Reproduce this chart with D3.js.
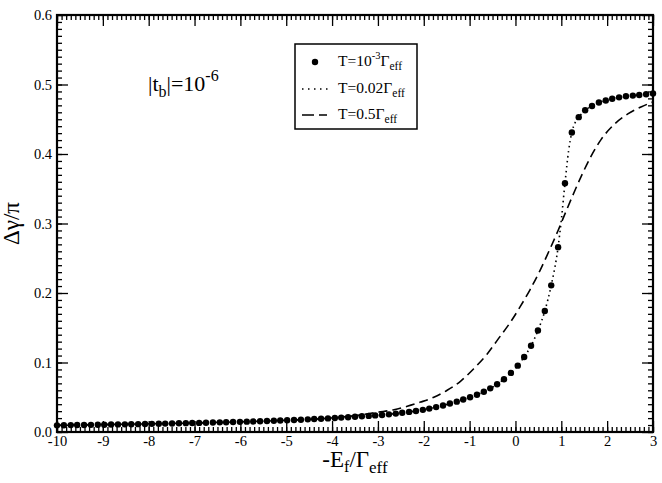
<!DOCTYPE html>
<html>
<head>
<meta charset="utf-8">
<script src="https://cdn.jsdelivr.net/npm/d3@7"></script>
<style>
  body { margin: 0; background: #fff; }
  svg { font-family: "Liberation Serif", "DejaVu Serif", serif; }
  .axis path, .axis line { stroke: #000; }
  .axis text { font-size: 14.5px; fill: #000; font-family: "Liberation Serif", serif; }
</style>
</head>
<body>
<div id="chart"></div>
<script>
// T = 10^-3 Γeff (symbols)
var dotX = [-10.00, -9.85, -9.70, -9.56, -9.41, -9.26, -9.11, -8.97, -8.82, -8.67,
  -8.52, -8.38, -8.23, -8.08, -7.93, -7.78, -7.64, -7.49, -7.34, -7.19,
  -7.05, -6.90, -6.75, -6.60, -6.45, -6.31, -6.16, -6.01, -5.86, -5.72,
  -5.57, -5.42, -5.27, -5.13, -4.98, -4.83, -4.68, -4.53, -4.39, -4.24,
  -4.09, -3.94, -3.80, -3.65, -3.50, -3.35, -3.20, -3.06, -2.91, -2.76,
  -2.61, -2.47, -2.32, -2.17, -2.02, -1.88, -1.73, -1.58, -1.43, -1.28,
  -1.14, -0.99, -0.84, -0.69, -0.55, -0.40, -0.25, -0.10, 0.05, 0.19,
  0.34, 0.49, 0.64, 0.78, 0.93, 1.08, 1.23, 1.38, 1.52, 1.67,
  1.82, 1.97, 2.11, 2.26, 2.41, 2.56, 2.70, 2.85, 3.00]
var dotY = [0.0096, 0.0097, 0.0099, 0.0100, 0.0101, 0.0103, 0.0104, 0.0105, 0.0107, 0.0109,
  0.0110, 0.0112, 0.0113, 0.0115, 0.0117, 0.0119, 0.0121, 0.0123, 0.0125, 0.0127,
  0.0129, 0.0131, 0.0134, 0.0136, 0.0139, 0.0141, 0.0144, 0.0146, 0.0149, 0.0152,
  0.0155, 0.0159, 0.0162, 0.0166, 0.0169, 0.0173, 0.0177, 0.0182, 0.0186, 0.0191,
  0.0196, 0.0201, 0.0207, 0.0213, 0.0219, 0.0226, 0.0232, 0.0239, 0.0245, 0.0254,
  0.0265, 0.0276, 0.0289, 0.0303, 0.0319, 0.0337, 0.0358, 0.0382, 0.0409, 0.0437,
  0.0467, 0.0500, 0.0537, 0.0580, 0.0628, 0.0687, 0.0760, 0.0850, 0.0955, 0.108,
  0.124, 0.146, 0.174, 0.211, 0.266, 0.358, 0.431, 0.453, 0.463, 0.469,
  0.474, 0.477, 0.4795, 0.4815, 0.483, 0.484, 0.485, 0.486, 0.487]

// T = 0.02 Γeff (dotted) - follows the symbols
var dottedX = [-10.00, -9.00, -8.00, -7.00, -6.00, -5.00, -4.00, -3.50, -3.00, -2.50,
  -2.00, -1.50, -1.00, -0.70, -0.40, -0.10, 0.05, 0.19, 0.34, 0.49,
  0.64, 0.78, 0.93, 1.00, 1.08, 1.16, 1.23, 1.30, 1.38, 1.52,
  1.67, 1.82, 1.97, 2.26, 2.56, 2.85, 3.00]
var dottedY = [0.0096, 0.0105, 0.0115, 0.0129, 0.0146, 0.0169, 0.0198, 0.0219, 0.0243, 0.0273,
  0.0322, 0.0396, 0.0498, 0.0576, 0.0687, 0.0850, 0.0955, 0.108, 0.124, 0.146,
  0.174, 0.211, 0.266, 0.305, 0.358, 0.405, 0.431, 0.445, 0.453, 0.463,
  0.469, 0.474, 0.477, 0.4815, 0.484, 0.486, 0.487]

// T = 0.5 Γeff (dashed)
var dashX = [-10, -9, -8, -7, -6, -5, -4, -3.5, -3, -2.65,
  -2.36, -2.07, -1.78, -1.49, -1.2, -0.91, -0.62, -0.375, -0.12, 0.1,
  0.32, 0.54, 0.75, 0.93, 1.1, 1.28, 1.47, 1.65, 1.87, 2.16,
  2.46, 2.75, 3.0]
var dashY = [0.0100, 0.0108, 0.0118, 0.0131, 0.0147, 0.0168, 0.0203, 0.0236, 0.0285, 0.032,
  0.037, 0.043, 0.050, 0.060, 0.073, 0.091, 0.112, 0.134, 0.157, 0.180,
  0.205, 0.233, 0.263, 0.290, 0.317, 0.345, 0.373, 0.397, 0.421, 0.443,
  0.458, 0.468, 0.475]

var xTicks = [-10, -9, -8, -7, -6, -5, -4, -3, -2, -1, 0, 1, 2, 3]
var yTicks = [0.0, 0.1, 0.2, 0.3, 0.4, 0.5, 0.6]

var width = 662, height = 483
var margin = {top: 15, right: 9, bottom: 51, left: 57}
var plotW = width - margin.left - margin.right
var plotH = height - margin.top - margin.bottom

var x = d3.scaleLinear().domain([-10, 3]).range([0, plotW])
var y = d3.scaleLinear().domain([0, 0.6]).range([plotH, 0])

var svg = d3.select("#chart")
  .append("svg")
    .attr("width", width)
    .attr("height", height)
  .append("g")
    .attr("transform", "translate(" + margin.left + "," + margin.top + ")")

var xMinor = d3.range(-100, 31).map(function(d) { return d / 10 })
var yMinor = d3.range(0, 61).map(function(d) { return d / 100 })

// minor ticks on all four sides
svg.append("g").attr("class", "axis").attr("transform", "translate(0," + plotH + ")")
  .call(d3.axisBottom(x).tickValues(xMinor).tickSize(-5).tickFormat(""))
svg.append("g").attr("class", "axis")
  .call(d3.axisTop(x).tickValues(xMinor).tickSize(-5).tickFormat(""))
svg.append("g").attr("class", "axis")
  .call(d3.axisLeft(y).tickValues(yMinor).tickSize(-5).tickFormat(""))
svg.append("g").attr("class", "axis").attr("transform", "translate(" + plotW + ",0)")
  .call(d3.axisRight(y).tickValues(yMinor).tickSize(-5).tickFormat(""))

// major ticks
svg.append("g").attr("class", "axis").attr("transform", "translate(0," + plotH + ")")
  .call(d3.axisBottom(x).tickValues(xTicks).tickSizeInner(-11).tickSizeOuter(0).tickPadding(4)
    .tickFormat(function(d) { return String(d) }))
svg.append("g").attr("class", "axis")
  .call(d3.axisTop(x).tickValues(xTicks).tickSizeInner(-11).tickSizeOuter(0).tickFormat(""))
svg.append("g").attr("class", "axis")
  .call(d3.axisLeft(y).tickValues(yTicks).tickSizeInner(-11).tickSizeOuter(0).tickPadding(5)
    .tickFormat(function(d) { return d.toFixed(1) }))
svg.append("g").attr("class", "axis").attr("transform", "translate(" + plotW + ",0)")
  .call(d3.axisRight(y).tickValues(yTicks).tickSizeInner(-11).tickSizeOuter(0).tickFormat(""))

svg.selectAll(".axis").attr("font-family", null).attr("font-size", null)
svg.selectAll(".axis line").attr("stroke-width", 1.3)
svg.selectAll(".axis path").attr("stroke", "none")

// frame
svg.append("rect")
  .attr("width", plotW)
  .attr("height", plotH)
  .attr("fill", "none")
  .attr("stroke", "#000")
  .attr("stroke-width", 2.2)

var line = d3.line()
  .x(function(d) { return x(d[0]) })
  .y(function(d) { return y(d[1]) })
  .curve(d3.curveMonotoneX)

svg.append("path")
  .datum(d3.zip(dashX, dashY))
  .attr("d", line)
  .attr("fill", "none")
  .attr("stroke", "#000")
  .attr("stroke-width", 1.6)
  .attr("stroke-dasharray", "9,5")

svg.append("path")
  .datum(d3.zip(dottedX, dottedY))
  .attr("d", line)
  .attr("fill", "none")
  .attr("stroke", "#000")
  .attr("stroke-width", 1.6)
  .attr("stroke-dasharray", "1.5,3.5")

svg.append("g")
  .selectAll("circle")
  .data(d3.zip(dotX, dotY))
  .join("circle")
    .attr("cx", function(d) { return x(d[0]) })
    .attr("cy", function(d) { return y(d[1]) })
    .attr("r", 3.2)
    .attr("fill", "#000")

// axis titles
var xt = svg.append("text")
  .attr("x", plotW / 2)
  .attr("y", plotH + 35)
  .attr("text-anchor", "middle")
  .style("font-size", "23px")
xt.append("tspan").text("-E")
xt.append("tspan").attr("dy", 5).style("font-size", "16px").text("f")
xt.append("tspan").attr("dy", -5).text("/Γ")
xt.append("tspan").attr("dy", 6).style("font-size", "17px").text("eff")

svg.append("text")
  .attr("transform", "translate(" + (-38) + "," + (plotH / 2) + ") rotate(-90)")
  .attr("text-anchor", "middle")
  .style("font-size", "23px")
  .text("Δγ/π")

// annotation
var ann = svg.append("text")
  .attr("x", 91)
  .attr("y", 76)
  .style("font-size", "22px")
ann.append("tspan").text("|t")
ann.append("tspan").attr("dy", 6).style("font-size", "16px").text("b")
ann.append("tspan").attr("dy", -6).text("|=10")
ann.append("tspan").attr("dy", -10).style("font-size", "16px").text("-6")

// legend
var lg = svg.append("g").attr("transform", "translate(" + (295 - margin.left) + "," + (44 - margin.top) + ")")
lg.append("rect")
  .attr("width", 122)
  .attr("height", 85)
  .attr("fill", "#fff")
  .attr("stroke", "#000")
  .attr("stroke-width", 1.5)

lg.append("circle").attr("cx", 20).attr("cy", 18).attr("r", 3.2).attr("fill", "#000")
lg.append("line").attr("x1", 7).attr("x2", 34).attr("y1", 45).attr("y2", 45)
  .attr("stroke", "#000").attr("stroke-width", 1.6).attr("stroke-dasharray", "1.5,4.5")
lg.append("line").attr("x1", 7).attr("x2", 32).attr("y1", 71).attr("y2", 71)
  .attr("stroke", "#000").attr("stroke-width", 1.6).attr("stroke-dasharray", "12,5")

function legendText(yy, parts) {
  var t = lg.append("text").attr("x", 43).attr("y", yy).style("font-size", "15.5px")
  parts.forEach(function(p) {
    t.append("tspan").attr("dy", p[1]).style("font-size", p[2] + "px").text(p[0])
  })
}
legendText(22, [["T=10", 0, 15.5], ["-3", -7, 10.5], ["Γ", 7, 15.5], ["eff", 4, 11.5]])
legendText(49, [["T=0.02Γ", 0, 15.5], ["eff", 4, 11.5]])
legendText(75, [["T=0.5Γ", 0, 15.5], ["eff", 4, 11.5]])
</script>
</body>
</html>
